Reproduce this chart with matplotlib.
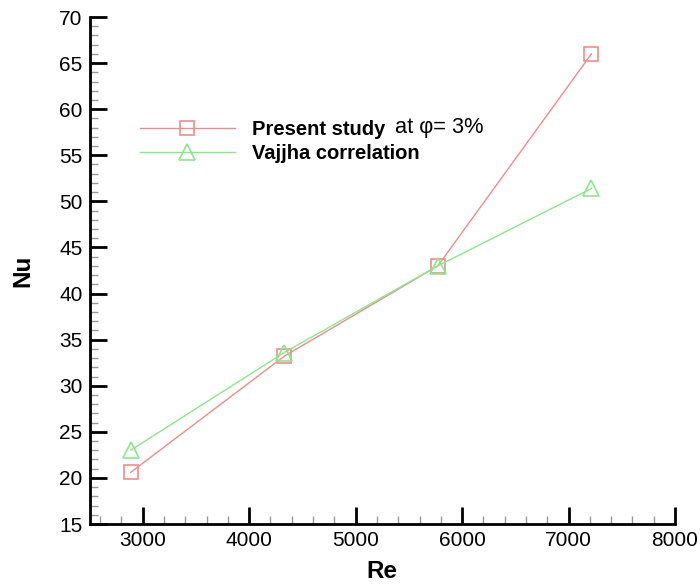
import matplotlib
matplotlib.use("Agg")
import matplotlib.pyplot as plt
from matplotlib.ticker import MultipleLocator

plt.rcParams['font.family'] = ['Liberation Sans', 'DejaVu Sans']

re_vals = [2886, 4329, 5772, 7215]
nu_present = [20.6, 33.2, 43.0, 66.0]
nu_vajjha = [23.0, 33.6, 43.0, 51.4]
label_present = "Present study"
label_vajjha = "Vajjha correlation"
annot = "at φ= 3%"

fig = plt.figure(figsize=(7.0, 5.87), dpi=100)
L, R, T, B = 89.5, 675, 17, 524
ax = fig.add_axes([L/700, 1-B/587, (R-L)/700, (B-T)/587])

red = '#f08c8c'
green = '#8ce68c'
ax.plot(re_vals, nu_present, color=red, lw=1.0, marker='s', ms=10.5,
        mfc='none', mec=red, mew=1.2, label=label_present)
ax.plot(re_vals, nu_vajjha, color=green, lw=1.0, marker='^', ms=11,
        mfc='none', mec=green, mew=1.2, label=label_vajjha)

ax.set_xlim(2500, 8000)
ax.set_ylim(15, 70)
ax.xaxis.set_major_locator(MultipleLocator(1000))
ax.xaxis.set_minor_locator(MultipleLocator(200))
ax.yaxis.set_major_locator(MultipleLocator(5))
ax.yaxis.set_minor_locator(MultipleLocator(1))

for s in ['top', 'right']:
    ax.spines[s].set_visible(False)
for s in ['left', 'bottom']:
    ax.spines[s].set_linewidth(2)

ax.tick_params(which='major', direction='in', length=12, width=2, labelsize=15, pad=5)
ax.tick_params(which='minor', direction='in', length=6, width=1, color='#999999')

ax.set_xlabel('Re', fontsize=17.5, fontweight='bold', labelpad=7)
ax.set_ylabel('Nu', fontsize=17.5, fontweight='bold', labelpad=18)

leg = ax.legend(loc='upper left', bbox_to_anchor=(140/700, 1-120/587),
                bbox_transform=fig.transFigure, frameon=False, borderpad=0,
                borderaxespad=0, handlelength=4.7, handletextpad=0.85,
                labelspacing=0.23, prop={'weight': 'bold', 'size': 14.5})
fig.text(395/700, 1-128/587, annot, fontsize=15.7, va='center', ha='left')

fig.savefig('out.png', dpi=100)
